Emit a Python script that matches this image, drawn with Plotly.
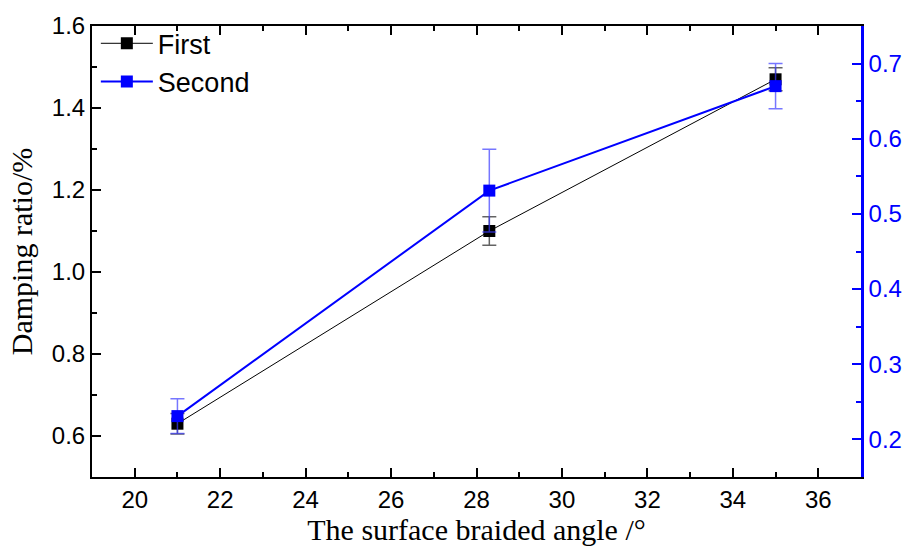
import plotly.graph_objects as go

angles = [21, 28.3, 35]
first = [0.63, 1.10, 1.47]
first_err = [0.025, 0.035, 0.028]
second = [0.231, 0.531, 0.67]
second_err = [0.023, 0.055, 0.03]

fig = go.Figure()
fig.add_trace(go.Scatter(
    x=angles, y=first, name="First", mode="lines+markers",
    line=dict(color="black", width=1),
    marker=dict(symbol="square", size=12, color="black"),
    error_y=dict(type="data", array=first_err, color="rgba(60,60,60,0.8)", thickness=1.5, width=7),
    yaxis="y"))
fig.add_trace(go.Scatter(
    x=angles, y=second, name="Second", mode="lines+markers",
    line=dict(color="#0000ff", width=2),
    marker=dict(symbol="square", size=12, color="#0000ff"),
    error_y=dict(type="data", array=second_err, color="rgba(60,60,255,0.7)", thickness=1.5, width=7),
    yaxis="y2"))

fig.update_layout(
    width=914, height=553,
    margin=dict(l=92, r=50, t=13, b=76),
    plot_bgcolor="white", paper_bgcolor="white",
    font=dict(family="Liberation Sans, Arial", size=24, color="black"),
    showlegend=True,
    legend=dict(x=0.005, y=1.015, xanchor="left", yanchor="top",
                bgcolor="rgba(0,0,0,0)", font=dict(size=27, family="Liberation Sans, Arial"),
                tracegroupgap=0, itemwidth=52),
    xaxis=dict(range=[19, 37], tickvals=[20, 22, 24, 26, 28, 30, 32, 34, 36],
               ticks="inside", ticklen=9, tickwidth=2, tickcolor="black",
               minor=dict(dtick=1, tick0=19, ticks="inside", ticklen=5, tickwidth=1.5, tickcolor="black"),
               showline=True, linecolor="black", linewidth=2, mirror="ticks",
               showgrid=False, zeroline=False,
               title=dict(text="The surface braided angle /°", standoff=6,
                          font=dict(family="Liberation Serif, Times New Roman", size=30))),
    yaxis=dict(range=[0.5, 1.6], tickvals=[0.6, 0.8, 1.0, 1.2, 1.4, 1.6], tickformat=".1f",
               ticks="inside", ticklen=9, tickwidth=2, tickcolor="black",
               minor=dict(dtick=0.1, tick0=0.5, ticks="inside", ticklen=5, tickwidth=1.5, tickcolor="black"),
               showline=True, linecolor="black", linewidth=2,
               showgrid=False, zeroline=False,
               title=dict(text="Damping ratio/%", standoff=10,
                          font=dict(family="Liberation Serif, Times New Roman", size=30))),
    yaxis2=dict(range=[0.15, 0.75], tickvals=[0.2, 0.3, 0.4, 0.5, 0.6, 0.7], tickformat=".1f",
                overlaying="y", side="right", anchor="x",
                ticks="inside", ticklen=9, tickwidth=2, tickcolor="#0000ff",
                minor=dict(dtick=0.05, tick0=0.15, ticks="inside", ticklen=5, tickwidth=1.5, tickcolor="#0000ff"),
                showline=True, linecolor="#0000ff", linewidth=2.5,
                tickfont=dict(color="#0000ff", size=24),
                showgrid=False, zeroline=False),
)

fig.write_html("out.html")
